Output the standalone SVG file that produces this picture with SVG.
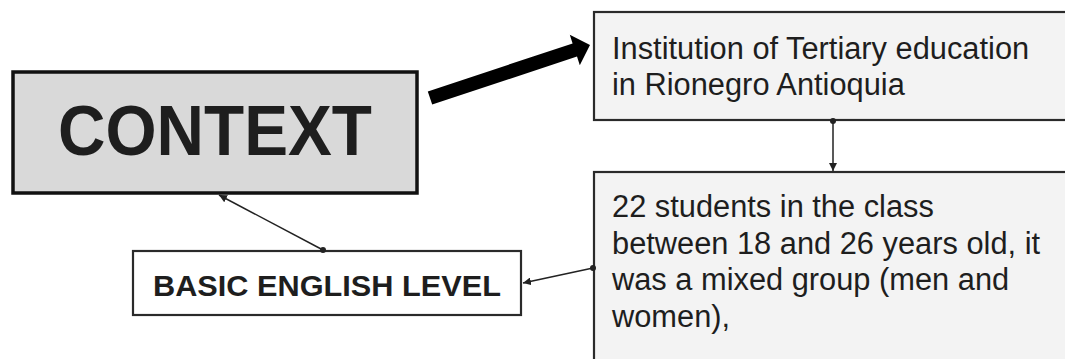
<svg xmlns="http://www.w3.org/2000/svg" width="1065" height="359" viewBox="0 0 1065 359">
  <defs>
    <style>
      .lbl { font-family: "Liberation Sans", Arial, sans-serif; fill: #1e1e1e; }
      .body { font-size: 30.8px; }
      .conn { stroke: #222; stroke-width: 1.5; fill: none; }
      .box { stroke: #2a2a2a; stroke-width: 2.2; }
    </style>
    <marker id="ah" viewBox="0 0 10 10" refX="10" refY="5" markerWidth="8" markerHeight="8" markerUnits="userSpaceOnUse" orient="auto">
      <path d="M0,0 L10,5 L0,10 z" fill="#222"/>
    </marker>
    <marker id="dot" viewBox="0 0 10 10" refX="5" refY="5" markerWidth="6" markerHeight="6" markerUnits="userSpaceOnUse">
      <circle cx="5" cy="5" r="5" fill="#222"/>
    </marker>
  </defs>
  <rect width="1065" height="359" fill="#ffffff"/>

  <g id="node-context">
    <rect x="13" y="72" width="404" height="121" fill="#d9d9d9" stroke="#111" stroke-width="3.5"/>
    <text class="lbl" x="58" y="155" font-size="70" font-weight="bold" fill="#111" textLength="314" lengthAdjust="spacingAndGlyphs">CONTEXT</text>
  </g>

  <g id="node-institution">
    <rect class="box" x="594" y="12" width="490" height="108" fill="#f3f3f3"/>
    <text class="lbl body" x="612" y="58.5">Institution of Tertiary education</text>
    <text class="lbl body" x="612" y="94.5">in Rionegro Antioquia</text>
  </g>

  <g id="node-students">
    <rect class="box" x="594" y="172" width="490" height="200" fill="#f3f3f3"/>
    <text class="lbl body" x="612" y="217">22 students in the class</text>
    <text class="lbl body" x="612" y="254">between 18 and 26 years old, it</text>
    <text class="lbl body" x="612" y="290">was a mixed group (men and</text>
    <text class="lbl body" x="612" y="327">women),</text>
  </g>

  <g id="node-basic">
    <rect class="box" x="133" y="251" width="388" height="64" fill="#ffffff"/>
    <text class="lbl" x="153" y="296" font-size="29" font-weight="bold" textLength="348" lengthAdjust="spacingAndGlyphs">BASIC ENGLISH LEVEL</text>
  </g>

  <g id="connectors">
    <polygon points="427.8,91.4 572.6,43.4 569.8,34.8 590,45 579.8,65.2 577,56.6 432.2,104.6" fill="#000"/>
    <line class="conn" x1="833" y1="121" x2="833" y2="171" marker-start="url(#dot)" marker-end="url(#ah)"/>
    <line class="conn" x1="593" y1="268" x2="523" y2="283" marker-start="url(#dot)" marker-end="url(#ah)"/>
    <line class="conn" x1="323" y1="250" x2="219" y2="195" marker-start="url(#dot)" marker-end="url(#ah)"/>
  </g>
</svg>
